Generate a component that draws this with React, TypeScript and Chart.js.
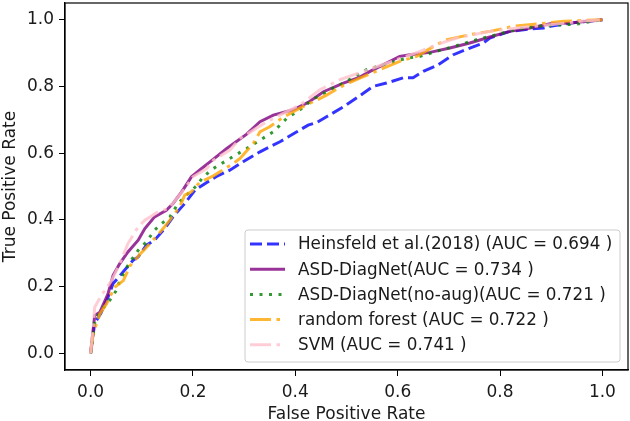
import React, { useEffect, useRef } from "react";
import { Chart, registerables } from "chart.js";

Chart.register(...registerables);

// ---- data -------------------------------------------------------------
const SERIES_LABELS = [
  "Heinsfeld et al.(2018) (AUC = 0.694 )",
  "ASD-DiagNet(AUC = 0.734 )",
  "ASD-DiagNet(no-aug)(AUC = 0.721 )",
  "random forest (AUC = 0.722 )",
  "SVM (AUC = 0.741 )",
];

const HEINSFELD_FPR = [0, 0.008, 0.02, 0.034, 0.044, 0.083, 0.093, 0.109, 0.125, 0.145, 0.161, 0.184, 0.204, 0.227, 0.246, 0.272, 0.298, 0.331, 0.37, 0.403, 0.425, 0.442, 0.461, 0.494, 0.526, 0.552, 0.578, 0.611, 0.63, 0.65, 0.676, 0.709, 0.741, 0.767, 0.78, 0.819, 0.859, 0.885, 0.898, 0.937, 1];
const HEINSFELD_TPR = [0, 0.09, 0.12, 0.168, 0.209, 0.279, 0.289, 0.324, 0.339, 0.374, 0.409, 0.449, 0.489, 0.512, 0.53, 0.549, 0.574, 0.604, 0.634, 0.664, 0.684, 0.692, 0.709, 0.739, 0.772, 0.8, 0.81, 0.826, 0.826, 0.845, 0.862, 0.895, 0.915, 0.93, 0.945, 0.965, 0.972, 0.975, 0.98, 0.99, 1];

const DIAGNET_FPR = [0, 0.008, 0.018, 0.034, 0.044, 0.057, 0.073, 0.093, 0.106, 0.125, 0.148, 0.161, 0.178, 0.197, 0.217, 0.24, 0.266, 0.305, 0.331, 0.357, 0.396, 0.425, 0.455, 0.494, 0.526, 0.546, 0.585, 0.604, 0.624, 0.663, 0.702, 0.741, 0.78, 0.819, 0.859, 0.898, 0.937, 1];
const DIAGNET_TPR = [0, 0.113, 0.123, 0.178, 0.234, 0.269, 0.304, 0.339, 0.374, 0.409, 0.429, 0.449, 0.484, 0.529, 0.554, 0.582, 0.614, 0.657, 0.694, 0.714, 0.73, 0.752, 0.784, 0.81, 0.828, 0.845, 0.875, 0.89, 0.895, 0.902, 0.915, 0.93, 0.948, 0.965, 0.975, 0.988, 0.99, 1];

const NOAUG_FPR = [0, 0.008, 0.018, 0.038, 0.051, 0.057, 0.077, 0.093, 0.109, 0.125, 0.139, 0.155, 0.171, 0.184, 0.207, 0.22, 0.24, 0.272, 0.305, 0.331, 0.357, 0.383, 0.409, 0.435, 0.474, 0.494, 0.539, 0.572, 0.618, 0.644, 0.682, 0.715, 0.754, 0.78, 0.833, 0.872, 0.95, 1];
const NOAUG_TPR = [0, 0.09, 0.123, 0.16, 0.19, 0.218, 0.274, 0.309, 0.334, 0.369, 0.389, 0.409, 0.449, 0.469, 0.502, 0.529, 0.554, 0.584, 0.614, 0.639, 0.664, 0.704, 0.73, 0.762, 0.795, 0.81, 0.85, 0.865, 0.885, 0.89, 0.908, 0.922, 0.94, 0.95, 0.971, 0.98, 0.987, 1];

const FOREST_FPR = [0, 0.005, 0.018, 0.031, 0.047, 0.064, 0.077, 0.096, 0.116, 0.139, 0.155, 0.174, 0.184, 0.197, 0.213, 0.24, 0.279, 0.292, 0.318, 0.331, 0.35, 0.373, 0.396, 0.409, 0.442, 0.461, 0.494, 0.526, 0.565, 0.604, 0.637, 0.676, 0.696, 0.741, 0.78, 0.826, 0.872, 0.924, 1];
const FOREST_TPR = [0, 0.058, 0.118, 0.148, 0.198, 0.218, 0.262, 0.296, 0.329, 0.369, 0.399, 0.439, 0.474, 0.484, 0.512, 0.532, 0.569, 0.584, 0.629, 0.664, 0.679, 0.704, 0.724, 0.735, 0.759, 0.774, 0.803, 0.825, 0.85, 0.875, 0.89, 0.925, 0.94, 0.955, 0.965, 0.98, 0.987, 0.995, 1];

const SVM_FPR = [0, 0.005, 0.008, 0.021, 0.041, 0.06, 0.073, 0.093, 0.106, 0.132, 0.152, 0.171, 0.184, 0.2, 0.227, 0.24, 0.272, 0.292, 0.318, 0.344, 0.37, 0.409, 0.448, 0.487, 0.533, 0.598, 0.644, 0.676, 0.715, 0.78, 0.833, 0.898, 0.957, 1];
const SVM_TPR = [0, 0.078, 0.138, 0.173, 0.218, 0.279, 0.329, 0.379, 0.399, 0.424, 0.434, 0.469, 0.494, 0.529, 0.554, 0.579, 0.609, 0.644, 0.669, 0.694, 0.714, 0.744, 0.79, 0.82, 0.845, 0.88, 0.905, 0.925, 0.945, 0.965, 0.975, 0.985, 0.995, 1];

const X_TICKS = [0, 0.2, 0.4, 0.6, 0.8, 1.0];
const Y_TICKS = [0, 0.2, 0.4, 0.6, 0.8, 1.0];
const X_TITLE = "False Positive Rate";
const Y_TITLE = "True Positive Rate";

// ---- styles -----------------------------------------------------------
const FONT = "'DejaVu Sans', sans-serif";
const FONT_SIZE = 17;
const LEGEND_FONT_SIZE = 16.8;
const TEXT_COLOR = "#1a1a1a";

const STYLES = [
  { color: "rgba(0,0,255,0.8)", dash: [12, 5] },
  { color: "rgba(128,0,128,0.8)", dash: [] as number[] },
  { color: "rgba(0,128,0,0.8)", dash: [3, 6.5] },
  { color: "rgba(255,165,0,0.8)", dash: [21, 5.5, 3.5, 5.5] },
  { color: "rgba(255,192,203,0.8)", dash: [21, 5.5, 3.5, 5.5] },
];

const SERIES = [
  [HEINSFELD_FPR, HEINSFELD_TPR],
  [DIAGNET_FPR, DIAGNET_TPR],
  [NOAUG_FPR, NOAUG_TPR],
  [FOREST_FPR, FOREST_TPR],
  [SVM_FPR, SVM_TPR],
];

const framePlugin = {
  id: "frame",
  afterDatasetsDraw(chart: any) {
    const { ctx, chartArea: a } = chart;
    ctx.save();
    ctx.strokeStyle = "#000";
    ctx.lineWidth = 1.2;
    ctx.strokeRect(a.left, a.top, a.right - a.left, a.bottom - a.top);
    ctx.restore();
  },
};

const legendPlugin = {
  id: "insideLegend",
  afterDraw(chart: any) {
    const { ctx, chartArea: a } = chart;
    const datasets = chart.data.datasets;
    const boxRight = a.right - 8;
    const boxBottom = a.bottom - 8;
    const boxW = 375;
    const rowH = 25.2;
    const boxH = 132;
    const x0 = boxRight - boxW;
    const y0 = boxBottom - boxH;
    ctx.save();
    ctx.beginPath();
    const r = 3;
    ctx.moveTo(x0 + r, y0);
    ctx.lineTo(x0 + boxW - r, y0);
    ctx.quadraticCurveTo(x0 + boxW, y0, x0 + boxW, y0 + r);
    ctx.lineTo(x0 + boxW, y0 + boxH - r);
    ctx.quadraticCurveTo(x0 + boxW, y0 + boxH, x0 + boxW - r, y0 + boxH);
    ctx.lineTo(x0 + r, y0 + boxH);
    ctx.quadraticCurveTo(x0, y0 + boxH, x0, y0 + boxH - r);
    ctx.lineTo(x0, y0 + r);
    ctx.quadraticCurveTo(x0, y0, x0 + r, y0);
    ctx.closePath();
    ctx.fillStyle = "rgba(255,255,255,0.85)";
    ctx.fill();
    ctx.strokeStyle = "#cccccc";
    ctx.lineWidth = 1;
    ctx.stroke();

    ctx.font = `${LEGEND_FONT_SIZE}px ${FONT}`;
    ctx.textBaseline = "middle";
    ctx.textAlign = "left";
    datasets.forEach((ds: any, i: number) => {
      const cy = y0 + 14 + i * rowH;
      ctx.beginPath();
      ctx.setLineDash(ds.borderDash || []);
      ctx.strokeStyle = ds.borderColor;
      ctx.lineWidth = ds.borderWidth;
      ctx.moveTo(x0 + 5, cy);
      ctx.lineTo(x0 + 40, cy);
      ctx.stroke();
      ctx.setLineDash([]);
      ctx.fillStyle = TEXT_COLOR;
      ctx.fillText(ds.label, x0 + 53, cy + 1);
    });
    ctx.restore();
  },
};

export default function App() {
  const ref = useRef<HTMLCanvasElement | null>(null);

  useEffect(() => {
    if (!ref.current) return;
    const datasets = SERIES.map(([xs, ys], i) => ({
      label: SERIES_LABELS[i],
      data: xs.map((x, k) => ({ x, y: ys[k] })),
      showLine: true,
      borderColor: STYLES[i].color,
      backgroundColor: STYLES[i].color,
      borderDash: STYLES[i].dash,
      borderWidth: 3,
      pointRadius: 0,
      tension: 0,
      fill: false,
      order: SERIES.length - i,
    }));

    const tickFont = { family: FONT, size: FONT_SIZE };
    const chart = new Chart(ref.current, {
      type: "scatter",
      data: { datasets },
      options: {
        animation: false,
        responsive: false,
        devicePixelRatio: 1,
        layout: { padding: { top: 3, right: 2, left: 0, bottom: 0 } },
        plugins: { legend: { display: false }, tooltip: { enabled: false } },
        scales: {
          x: {
            type: "linear",
            min: -0.05,
            max: 1.05,
            afterBuildTicks: (s: any) => {
              s.ticks = X_TICKS.map((v) => ({ value: v }));
            },
            afterFit: (s: any) => {
              s.height = 51;
              s.paddingLeft = 0;
              s.paddingRight = 0;
            },
            ticks: {
              callback: (v: any) => Number(v).toFixed(1),
              font: tickFont,
              color: TEXT_COLOR,
              padding: 6,
              maxRotation: 0,
            },
            grid: {
              display: true,
              drawOnChartArea: false,
              drawTicks: true,
              tickLength: 6,
              color: "#000",
              lineWidth: 1,
            },
            border: { display: true, color: "#000", width: 1.2 },
            title: {
              display: true,
              text: X_TITLE,
              font: { family: FONT, size: FONT_SIZE },
              color: TEXT_COLOR,
              padding: { top: 0, bottom: -4 },
            },
          },
          y: {
            type: "linear",
            min: -0.05,
            max: 1.05,
            afterBuildTicks: (s: any) => {
              s.ticks = Y_TICKS.map((v) => ({ value: v }));
            },
            afterFit: (s: any) => {
              s.width = 65;
              s.paddingTop = 0;
              s.paddingBottom = 0;
            },
            ticks: {
              callback: (v: any) => Number(v).toFixed(1),
              font: tickFont,
              color: TEXT_COLOR,
              padding: 5,
            },
            grid: {
              display: true,
              drawOnChartArea: false,
              drawTicks: true,
              tickLength: 6,
              color: "#000",
              lineWidth: 1,
            },
            border: { display: true, color: "#000", width: 1.2 },
            title: {
              display: true,
              text: Y_TITLE,
              font: { family: FONT, size: FONT_SIZE },
              color: TEXT_COLOR,
              padding: { top: 0, bottom: 0 },
            },
          },
        },
      },
      plugins: [framePlugin, legendPlugin],
    });
    return () => chart.destroy();
  }, []);

  return (
    <div style={{ position: "fixed", left: 0, top: 0, width: 630, height: 421, background: "#fff" }}>
      <canvas ref={ref} width={630} height={421} style={{ width: 630, height: 421, display: "block" }} />
    </div>
  );
}
